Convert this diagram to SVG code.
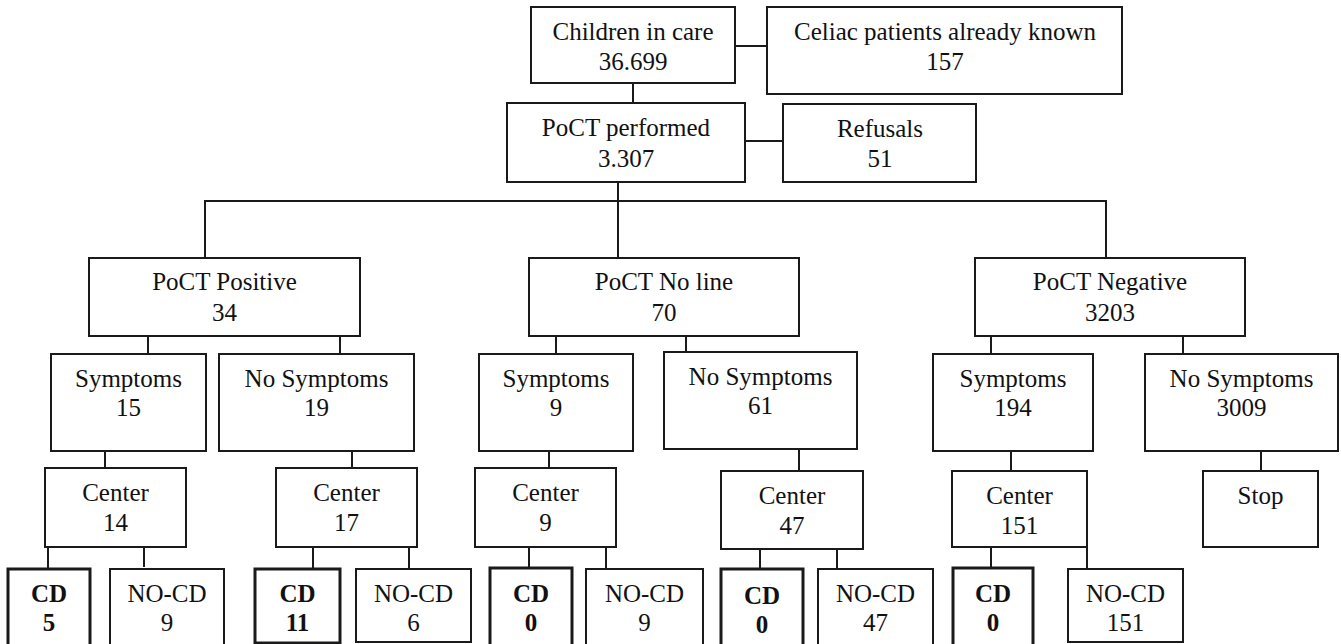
<svg xmlns="http://www.w3.org/2000/svg" width="1341" height="644" viewBox="0 0 1341 644">
<style>
.b{fill:#fff;stroke:#1a1a1a;stroke-width:2}
.cd{fill:#fff;stroke:#1a1a1a;stroke-width:3}
text{font-family:"Liberation Serif","Noto Serif","Nimbus Roman","FreeSerif","DejaVu Serif",serif;font-size:25px;fill:#111;text-anchor:middle}
.tb{font-weight:bold}
.c line{stroke:#1a1a1a;stroke-width:2}
</style>
<rect width="1341" height="644" fill="#fff"/>
<g class="c" id="connectors">
<line x1="735" y1="46" x2="767" y2="46"/>
<line x1="633" y1="83" x2="633" y2="103"/>
<line x1="745" y1="141" x2="783" y2="141"/>
<line x1="618" y1="182" x2="618" y2="258"/>
<line x1="204" y1="201" x2="1107" y2="201"/>
<line x1="205" y1="201" x2="205" y2="258"/>
<line x1="1106" y1="201" x2="1106" y2="258"/>
<line x1="148" y1="336" x2="148" y2="354"/>
<line x1="340" y1="336" x2="340" y2="354"/>
<line x1="556" y1="336" x2="556" y2="354"/>
<line x1="686" y1="336" x2="686" y2="352"/>
<line x1="991" y1="336" x2="991" y2="354"/>
<line x1="1183" y1="336" x2="1183" y2="354"/>
<line x1="105" y1="451" x2="105" y2="468"/>
<line x1="352" y1="451" x2="352" y2="468"/>
<line x1="549" y1="451" x2="549" y2="468"/>
<line x1="799" y1="449" x2="799" y2="471"/>
<line x1="1011" y1="451" x2="1011" y2="471"/>
<line x1="1261" y1="451" x2="1261" y2="471"/>
<line x1="48" y1="547" x2="48" y2="569"/>
<line x1="144" y1="547" x2="144" y2="567"/>
<line x1="313" y1="547" x2="313" y2="569"/>
<line x1="409" y1="547" x2="409" y2="569"/>
<line x1="529" y1="547" x2="529" y2="568"/>
<line x1="606" y1="547" x2="606" y2="569"/>
<line x1="760" y1="549" x2="760" y2="569"/>
<line x1="837" y1="549" x2="837" y2="569"/>
<line x1="991" y1="547" x2="991" y2="568"/>
<line x1="1087" y1="547" x2="1087" y2="569"/>
</g>
<g id="children"><rect class="b" x="531" y="7" width="204" height="76"/><text x="633" y="40">Children in care</text><text x="633" y="70">36.699</text></g>
<g id="celiac"><rect class="b" x="767" y="7" width="355" height="87"/><text x="945" y="40">Celiac patients already known</text><text x="945" y="70">157</text></g>
<g id="performed"><rect class="b" x="507" y="103" width="238" height="79"/><text x="626" y="136">PoCT performed</text><text x="626" y="167">3.307</text></g>
<g id="refusals"><rect class="b" x="783" y="104" width="193" height="78"/><text x="880" y="137">Refusals</text><text x="880" y="167">51</text></g>
<g id="positive"><rect class="b" x="89" y="258" width="271" height="78"/><text x="224.5" y="290">PoCT Positive</text><text x="224.5" y="321">34</text></g>
<g id="noline"><rect class="b" x="529" y="258" width="270" height="78"/><text x="664" y="290">PoCT No line</text><text x="664" y="321">70</text></g>
<g id="negative"><rect class="b" x="975" y="258" width="270" height="78"/><text x="1110" y="290">PoCT Negative</text><text x="1110" y="321">3203</text></g>
<g id="sym15"><rect class="b" x="51" y="354" width="155" height="97"/><text x="128.5" y="387">Symptoms</text><text x="128.5" y="416">15</text></g>
<g id="nosym19"><rect class="b" x="219" y="354" width="195" height="97"/><text x="316.5" y="387">No Symptoms</text><text x="316.5" y="416">19</text></g>
<g id="sym9"><rect class="b" x="479" y="354" width="154" height="97"/><text x="556" y="387">Symptoms</text><text x="556" y="416">9</text></g>
<g id="nosym61"><rect class="b" x="664" y="352" width="193" height="97"/><text x="760.5" y="385">No Symptoms</text><text x="760.5" y="414">61</text></g>
<g id="sym194"><rect class="b" x="933" y="354" width="160" height="97"/><text x="1013" y="387">Symptoms</text><text x="1013" y="416">194</text></g>
<g id="nosym3009"><rect class="b" x="1145" y="354" width="193" height="97"/><text x="1241.5" y="387">No Symptoms</text><text x="1241.5" y="416">3009</text></g>
<g id="center14"><rect class="b" x="45" y="468" width="141" height="79"/><text x="115.5" y="501">Center</text><text x="115.5" y="531">14</text></g>
<g id="center17"><rect class="b" x="276" y="468" width="141" height="79"/><text x="346.5" y="501">Center</text><text x="346.5" y="531">17</text></g>
<g id="center9"><rect class="b" x="475" y="468" width="141" height="79"/><text x="545.5" y="501">Center</text><text x="545.5" y="531">9</text></g>
<g id="center47"><rect class="b" x="721" y="471" width="142" height="78"/><text x="792" y="504">Center</text><text x="792" y="534">47</text></g>
<g id="center151"><rect class="b" x="952" y="471" width="135" height="76"/><text x="1019.5" y="504">Center</text><text x="1019.5" y="534">151</text></g>
<g id="stop"><rect class="b" x="1203" y="471" width="115" height="76"/><text x="1260.5" y="504">Stop</text></g>
<g id="cd5"><rect class="cd" x="8" y="569" width="82" height="82"/><text class="tb" x="49" y="602">CD</text><text class="tb" x="49" y="631">5</text></g>
<g id="nocd9a"><rect class="b" x="110" y="569" width="114" height="82"/><text x="167" y="602">NO-CD</text><text x="167" y="631">9</text></g>
<g id="cd11"><rect class="cd" x="255" y="569" width="85" height="74"/><text class="tb" x="297.5" y="602">CD</text><text class="tb" x="297.5" y="631">11</text></g>
<g id="nocd6"><rect class="b" x="356" y="569" width="115" height="73"/><text x="413.5" y="602">NO-CD</text><text x="413.5" y="631">6</text></g>
<g id="cd0a"><rect class="cd" x="490" y="568" width="82" height="83"/><text class="tb" x="531" y="602">CD</text><text class="tb" x="531" y="631">0</text></g>
<g id="nocd9b"><rect class="b" x="586" y="569" width="117" height="82"/><text x="644.5" y="602">NO-CD</text><text x="644.5" y="631">9</text></g>
<g id="cd0b"><rect class="cd" x="721" y="569" width="82" height="82"/><text class="tb" x="762" y="604">CD</text><text class="tb" x="762" y="633">0</text></g>
<g id="nocd47"><rect class="b" x="818" y="569" width="115" height="82"/><text x="875.5" y="602">NO-CD</text><text x="875.5" y="631">47</text></g>
<g id="cd0c"><rect class="cd" x="953" y="568" width="80" height="83"/><text class="tb" x="993" y="602">CD</text><text class="tb" x="993" y="631">0</text></g>
<g id="nocd151"><rect class="b" x="1068" y="569" width="115" height="73"/><text x="1125.5" y="602">NO-CD</text><text x="1125.5" y="631">151</text></g>
</svg>
